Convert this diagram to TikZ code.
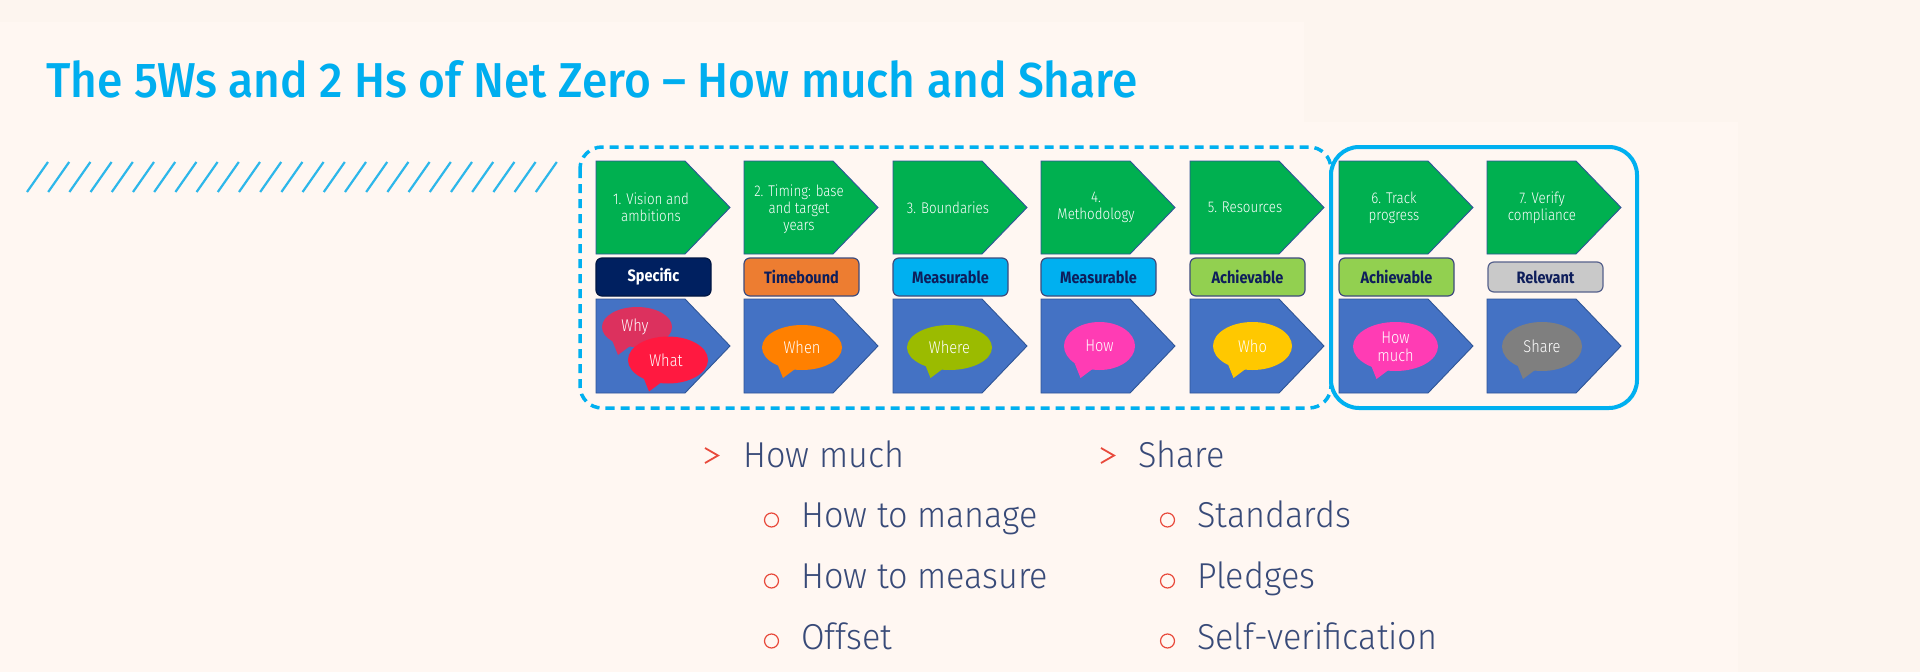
\documentclass[tikz,border=0pt]{standalone}
\usepackage{fontspec}
\setmainfont{Fira Sans}
\newfontfamily\titlefont{Fira Sans Medium}[FakeStretch=0.94]
\newfontfamily\lightfont{Fira Sans Light}[FakeStretch=0.86]
\newfontfamily\bulletfont{Fira Sans Light}[FakeStretch=0.95]
\newfontfamily\labfont{Fira Sans Bold}[FakeStretch=0.88]
\definecolor{bg}{HTML}{FDF5EF}
\definecolor{panel}{HTML}{FFF7F2}
\definecolor{titlec}{HTML}{00AEEF}
\definecolor{hatchc}{HTML}{2DB7EA}
\definecolor{boxc}{HTML}{00B0F0}
\definecolor{greenA}{HTML}{00B050}
\definecolor{blueA}{HTML}{4472C4}
\definecolor{edgeA}{HTML}{2F5597}
\definecolor{navyL}{HTML}{002060}
\definecolor{labtxt}{HTML}{0E1E5B}
\definecolor{orangeL}{HTML}{ED7D31}
\definecolor{cyanL}{HTML}{00B0F0}
\definecolor{greenL}{HTML}{92D050}
\definecolor{greyL}{HTML}{C9C9C9}
\definecolor{whyc}{HTML}{DC315E}
\definecolor{whatc}{HTML}{FF1940}
\definecolor{whenc}{HTML}{FF8000}
\definecolor{wherec}{HTML}{9BBB00}
\definecolor{howc}{HTML}{FF3CB4}
\definecolor{whoc}{HTML}{FFC800}
\definecolor{sharec}{HTML}{7F7F7F}
\definecolor{bulletc}{HTML}{E84A3C}
\definecolor{bodyc}{HTML}{384A78}
\tikzset{
  steptext/.style={text=white, align=center, font=\lightfont\fontsize{15.5}{17}\selectfont, inner sep=0},
  labbox/.style={rounded corners=6, line width=1.2},
  labtext/.style={font=\labfont\fontsize{16.5}{18}\selectfont, inner sep=0},
  bubtext/.style={text=white, align=center, font=\lightfont\fontsize{17}{18}\selectfont, inner sep=0},
  bultext/.style={text=bodyc, anchor=base west, font=\bulletfont\fontsize{36}{40}\selectfont, inner sep=0},
  subdot/.style={draw=bulletc, line width=1.2},
  arrowmark/.style={draw=bulletc, line width=1.8},
}
\newcommand{\pentagon}[4]{% left, top, height, colour
  \filldraw[fill=#4, draw=edgeA, line width=0.9]
    (#1,#2) -- ++(89,0) -- ++(45,#3/2) -- ++(-45,#3/2) -- ++(-89,0) -- cycle;}
\newcommand{\bubble}[6]{% name, cx, cy, rx, ry, colour
  \fill[#6] (#2,#3) ellipse [x radius=#4, y radius=#5];
  \fill[#6] (#2-25,#3+#5-7) -- (#2-19,#3+#5+8) -- (#2-7,#3+#5-1) -- cycle;}
\begin{document}
\begin{tikzpicture}[x=1pt, y=-1pt]
\useasboundingbox (0,0) rectangle (1920,672);
\fill[bg] (0,0) rectangle (1920,672);
\fill[panel] (0,22) rectangle (1304,122);
\fill[panel] (0,122) rectangle (1738,672);

% title
\node[anchor=base west, inner sep=0, text=titlec, font=\titlefont\fontsize{49}{55}\selectfont] (title) at (46,97)
  {The 5Ws and 2 Hs of Net Zero – How much and Share};

% hatch
\foreach \i in {0,...,24}
  \draw[hatchc, line width=2.2] (27+21.2*\i,192) -- (48+21.2*\i,162);

% columns
\foreach \L/\col in {596/1,744/2,893/3,1041/4,1190/5,1339/6,1487/7}{
  \pentagon{\L}{161}{93}{greenA}
  \pentagon{\L}{299}{94}{blueA}
  \coordinate (c\col) at (\L,0);
}

% step texts
\node[steptext] (s1) at ([xshift=55]c1 |- 0,207.5) {1. Vision and\\ambitions};
\node[steptext] (s2) at ([xshift=55]c2 |- 0,209) {2. Timing: base\\and target\\years};
\node[steptext] (s3) at ([xshift=55]c3 |- 0,207.5) {3. Boundaries};
\node[steptext] (s4) at ([xshift=55]c4 |- 0,207.5) {4.\\Methodology};
\node[steptext] (s5) at ([xshift=55]c5 |- 0,207.5) {5. Resources};
\node[steptext] (s6) at ([xshift=55]c6 |- 0,207.5) {6. Track\\progress};
\node[steptext] (s7) at ([xshift=55]c7 |- 0,207.5) {7. Verify\\compliance};

% labels
\filldraw[labbox, fill=navyL, draw=navyL!70!black] (596,258) rectangle (711,296);
\node[labtext, text=white] (l1) at (653.5,277) {Specific};
\filldraw[labbox, fill=orangeL, draw=labtxt!80] (744,258) rectangle (859,296);
\node[labtext, text=labtxt] (l2) at (801.5,277) {Timebound};
\filldraw[labbox, fill=cyanL, draw=labtxt!80] (893,258) rectangle (1008,296);
\node[labtext, text=labtxt] (l3) at (950.5,277) {Measurable};
\filldraw[labbox, fill=cyanL, draw=labtxt!80] (1041,258) rectangle (1156,296);
\node[labtext, text=labtxt] (l4) at (1098.5,277) {Measurable};
\filldraw[labbox, fill=greenL, draw=labtxt!80] (1190,258) rectangle (1305,296);
\node[labtext, text=labtxt] (l5) at (1247.5,277) {Achievable};
\filldraw[labbox, fill=greenL, draw=labtxt!80] (1339,258) rectangle (1454,296);
\node[labtext, text=labtxt] (l6) at (1396.5,277) {Achievable};
\filldraw[labbox, fill=greyL, draw=labtxt!70] (1488,262) rectangle (1603,292);
\node[labtext, text=labtxt] (l7) at (1545.5,277) {Relevant};

% bubbles
\bubble{b1a}{637}{327}{35}{20}{whyc}
\node[bubtext] (b1a) at (635,327) {Why};
\bubble{b1b}{668}{360}{40}{23.5}{whatc}
\node[bubtext] (b1b) at (666,360) {What};
\bubble{b2}{802}{347.5}{40}{22.5}{whenc}
\node[bubtext] (b2) at (802,347.5) {When};
\bubble{b3}{949.5}{347.5}{42.5}{22.5}{wherec}
\node[bubtext] (b3) at (949.5,347.5) {Where};
\bubble{b4}{1099.5}{346}{35.5}{24}{howc}
\node[bubtext] (b4) at (1099.5,346) {How};
\bubble{b5}{1252.5}{346}{39.5}{24}{whoc}
\node[bubtext] (b5) at (1252.5,346) {Who};
\bubble{b6}{1395.5}{346.5}{42.5}{24.5}{howc}
\node[bubtext] (b6) at (1395.5,346.5) {How\\much};
\bubble{b7}{1542}{346.5}{40}{24.5}{sharec}
\node[bubtext] (b7) at (1542,346.5) {Share};

% group boxes
\draw[boxc, line width=3.5, dash pattern=on 9 off 6, rounded corners=22] (580,147) rectangle (1331,408);
\draw[boxc, line width=4, rounded corners=28] (1331,147) rectangle (1637,408);

% bullets
\draw[arrowmark] (705,448) -- (718,455.5) -- (705,463);
\node[bultext] (h1) at (743,467) {How much};
\draw[subdot] (771.5,520) circle [radius=7];
\node[bultext] (h2) at (801,527) {How to manage};
\draw[subdot] (771.5,581) circle [radius=7];
\node[bultext] (h3) at (801,588) {How to measure};
\draw[subdot] (771.5,641) circle [radius=7];
\node[bultext] (h4) at (801,649) {Offset};

\draw[arrowmark] (1101,448) -- (1114,455.5) -- (1101,463);
\node[bultext] (r1) at (1138,467) {Share};
\draw[subdot] (1167.5,520) circle [radius=7];
\node[bultext] (r2) at (1197,527) {Standards};
\draw[subdot] (1167.5,581) circle [radius=7];
\node[bultext] (r3) at (1197,588) {Pledges};
\draw[subdot] (1167.5,641) circle [radius=7];
\node[bultext] (r4) at (1197,649) {Self-verification};
\end{tikzpicture}
\end{document}
